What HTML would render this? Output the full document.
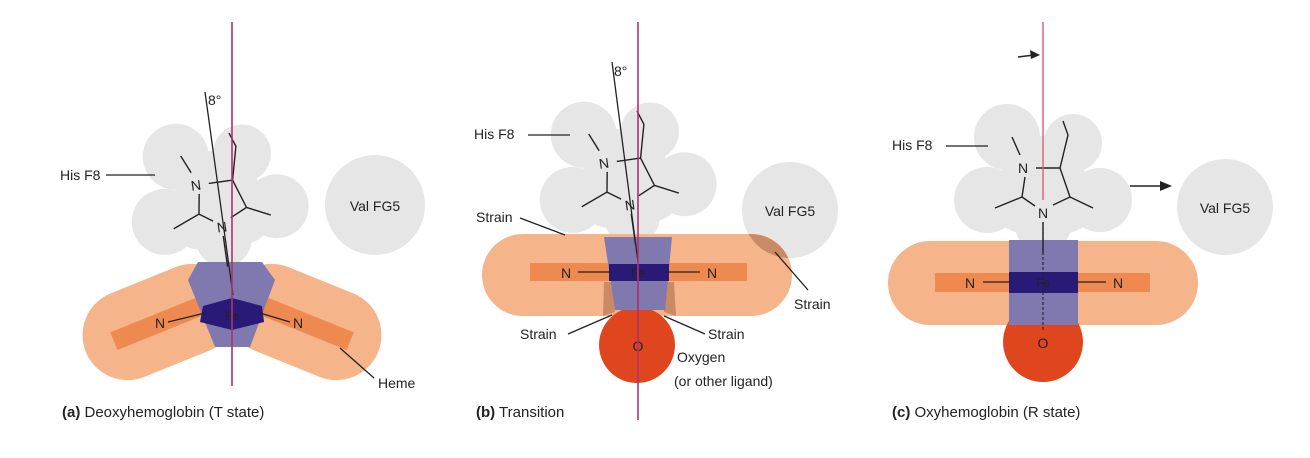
<!DOCTYPE html>
<html><head><meta charset="utf-8"><style>
html,body{margin:0;padding:0;background:#fff}
svg{display:block}
text{font-family:"Liberation Sans",Arial,sans-serif;fill:#222}
</style></head><body>
<svg width="1310" height="458" viewBox="0 0 1310 458" xmlns="http://www.w3.org/2000/svg">
<defs>
<g id="cloud" fill="#e6e6e6">
  <circle cx="-36" cy="-76" r="33"/><circle cx="30" cy="-70" r="29"/>
  <circle cx="-56" cy="-13" r="33"/><circle cx="57" cy="-13" r="32"/>
  <circle cx="0" cy="12" r="28"/><circle cx="0" cy="-35" r="42"/>
  <circle cx="-20" cy="-10" r="30"/><circle cx="22" cy="-10" r="30"/>
</g>
<g id="mol" stroke="#222" stroke-width="1.4" fill="none">
  <path d="M-23,-58 L-31,-76"/>
  <path d="M-7,-45 L17,-45 L25,-78 L20,-92"/>
  <path d="M17,-45 L27,-16 L50,-5"/>
  <path d="M27,-16 L10,-8"/>
  <path d="M-18,-36 L-21,-16 L-48,-5"/>
  <path d="M-21,-16 L-8,-7"/>
  <path d="M0,9 L0,40"/>
</g>
<g id="moltxt" font-size="14">
  <text x="-20" y="-40" text-anchor="middle">N</text>
  <text x="0" y="5" text-anchor="middle">N</text>
</g>
<clipPath id="capB"><rect x="482" y="234" width="310" height="82" rx="41"/></clipPath>
</defs>

<!-- ===== Panel A ===== -->
<circle cx="375" cy="205" r="50" fill="#e6e6e6"/>
<text x="375" y="211" font-size="14" text-anchor="middle">Val FG5</text>
<g transform="translate(222,227) rotate(-8)"><use href="#cloud"/></g>
<g transform="rotate(-22 160 322)">
  <rect x="80" y="277" width="160" height="90" rx="45" fill="#f5b48a"/>
  <rect x="110" y="313" width="115" height="19" fill="#ee8a50"/>
</g>
<g transform="rotate(22 304 322)">
  <rect x="224" y="277" width="160" height="90" rx="45" fill="#f5b48a"/>
  <rect x="239" y="313" width="115" height="19" fill="#ee8a50"/>
</g>
<polygon points="198,262 262,262 275,280 250,347 215,347 188,280" fill="#8079b0"/>
<polygon points="203,306 232,298 262,306 264,322 232,330 200,322" fill="#2a1a78"/>
<path d="M168,322 L205,313 M260,313 L290,322" stroke="#222" stroke-width="1.3"/>
<text x="160" y="328" font-size="14" text-anchor="middle">N</text>
<text x="298" y="328" font-size="14" text-anchor="middle">N</text>
<text x="232" y="320" font-size="12" text-anchor="middle" fill="#1a1050">Fe</text>
<g transform="translate(222,227) rotate(-8)"><use href="#mol"/><use href="#moltxt"/></g>
<line x1="205" y1="92" x2="233" y2="295" stroke="#222" stroke-width="1.3"/>
<text x="208" y="105" font-size="14">8°</text>
<line x1="232" y1="22" x2="232" y2="386" stroke="#b0336a" stroke-width="1.6"/>
<text x="60" y="180" font-size="14">His F8</text>
<line x1="106" y1="175" x2="155" y2="175" stroke="#222" stroke-width="1.3"/>
<line x1="340" y1="348" x2="374" y2="378" stroke="#222" stroke-width="1.3"/>
<text x="378" y="388" font-size="14">Heme</text>
<text x="62" y="417" font-size="15"><tspan font-weight="bold">(a)</tspan> Deoxyhemoglobin (T state)</text>

<!-- ===== Panel B ===== -->
<circle cx="790" cy="210" r="48" fill="#e6e6e6"/>
<text x="790" y="216" font-size="14" text-anchor="middle">Val FG5</text>
<g transform="translate(630,205) rotate(-8)"><use href="#cloud"/></g>
<rect x="482" y="234" width="310" height="82" rx="41" fill="#f5b48a"/>
<circle cx="790" cy="210" r="48" fill="#c98a64" clip-path="url(#capB)"/>
<rect x="530" y="263" width="217" height="18" fill="#ee8a50"/>
<polygon points="604,282 613,282 615,312 603,316" fill="#c98a64"/>
<polygon points="665,282 674,282 676,316 664,312" fill="#c98a64"/>
<circle cx="637" cy="345" r="38" fill="#e0461e"/>
<polygon points="604,237 672,237 665,310 615,310" fill="#8079b0"/>
<rect x="609" y="264" width="60" height="17" fill="#2a1a78"/>
<path d="M578,272 L612,272 M666,272 L700,272" stroke="#222" stroke-width="1.3"/>
<text x="566" y="278" font-size="14" text-anchor="middle">N</text>
<text x="712" y="278" font-size="14" text-anchor="middle">N</text>
<text x="638" y="277" font-size="12" text-anchor="middle" fill="#1a1050">Fe</text>
<text x="638" y="351" font-size="14" text-anchor="middle">O</text>
<line x1="638" y1="281" x2="638" y2="340" stroke="#222" stroke-width="1.2"/>
<g transform="translate(630,205) rotate(-8)"><use href="#mol"/><use href="#moltxt"/></g>
<line x1="612" y1="62" x2="638" y2="262" stroke="#222" stroke-width="1.3"/>
<text x="614" y="76" font-size="14">8°</text>
<line x1="638" y1="22" x2="638" y2="420" stroke="#b0336a" stroke-width="1.6"/>
<text x="474" y="139" font-size="14">His F8</text>
<line x1="528" y1="135" x2="570" y2="135" stroke="#222" stroke-width="1.3"/>
<text x="476" y="222" font-size="14">Strain</text>
<line x1="520" y1="218" x2="565" y2="235" stroke="#222" stroke-width="1.3"/>
<text x="794" y="309" font-size="14">Strain</text>
<line x1="775" y1="252" x2="808" y2="290" stroke="#222" stroke-width="1.3"/>
<text x="520" y="339" font-size="14">Strain</text>
<line x1="568" y1="334" x2="612" y2="315" stroke="#222" stroke-width="1.3"/>
<text x="708" y="339" font-size="14">Strain</text>
<line x1="664" y1="316" x2="705" y2="334" stroke="#222" stroke-width="1.3"/>
<text x="677" y="362" font-size="14">Oxygen</text>
<text x="674" y="386" font-size="14">(or other ligand)</text>
<text x="476" y="417" font-size="15"><tspan font-weight="bold">(b)</tspan> Transition</text>

<!-- ===== Panel C ===== -->
<circle cx="1225" cy="207" r="48" fill="#e6e6e6"/>
<text x="1225" y="213" font-size="14" text-anchor="middle">Val FG5</text>
<g transform="translate(1043,213)"><use href="#cloud"/></g>
<rect x="888" y="241" width="310" height="84" rx="42" fill="#f5b48a"/>
<rect x="935" y="273" width="215" height="19" fill="#ee8a50"/>
<circle cx="1043" cy="342" r="40" fill="#e0461e"/>
<rect x="1009" y="240" width="69" height="85" fill="#8079b0"/>
<rect x="1009" y="272" width="69" height="21" fill="#2a1a78"/>
<path d="M983,282 L1012,282 M1076,282 L1106,282" stroke="#222" stroke-width="1.3"/>
<text x="970" y="288" font-size="14" text-anchor="middle">N</text>
<text x="1118" y="288" font-size="14" text-anchor="middle">N</text>
<text x="1043" y="287" font-size="12" text-anchor="middle" fill="#1a1050">Fe</text>
<text x="1043" y="348" font-size="14" text-anchor="middle">O</text>
<line x1="1043" y1="222" x2="1043" y2="330" stroke="#222" stroke-width="1.1" stroke-dasharray="3,2"/>
<g transform="translate(1043,213)"><use href="#mol"/><use href="#moltxt"/></g>
<line x1="1043" y1="22" x2="1043" y2="200" stroke="#e05a80" stroke-width="1.4"/>
<line x1="1018" y1="57" x2="1034" y2="55" stroke="#222" stroke-width="1.5"/>
<polygon points="1040,55 1030,50 1031,59" fill="#222"/>
<line x1="1130" y1="186" x2="1162" y2="186" stroke="#222" stroke-width="1.5"/>
<polygon points="1172,186 1160,181 1160,191" fill="#222"/>
<text x="892" y="150" font-size="14">His F8</text>
<line x1="946" y1="146" x2="988" y2="146" stroke="#222" stroke-width="1.3"/>
<text x="892" y="417" font-size="15"><tspan font-weight="bold">(c)</tspan> Oxyhemoglobin (R state)</text>
</svg>
</body></html>
